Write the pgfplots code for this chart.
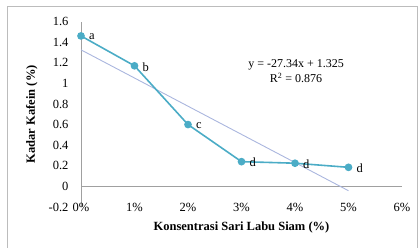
\documentclass[border=0pt]{standalone}
\usepackage{pgfplots}
\pgfplotsset{compat=1.18}
\usepackage{fontspec}
\setmainfont{Liberation Serif}
\definecolor{teal1}{RGB}{75,172,198}
\definecolor{trend}{RGB}{170,182,222}
\definecolor{axgray}{RGB}{160,160,160}
\begin{document}
\begin{tikzpicture}[x=1pt,y=1pt]
\useasboundingbox (0,0) rectangle (419,247);
\draw[axgray!70, line width=0.8pt] (7,-5) rectangle (417,241);
\begin{axis}[
  at={(81pt,40pt)}, anchor=south west,
  scale only axis, width=321pt, height=185.5pt,
  xmin=0, xmax=0.06, ymin=-0.2, ymax=1.6,
  clip=false,
  scaled x ticks=false, scaled y ticks=false,
  axis y line*=left, axis x line*=bottom,
  x axis line style={draw=none},
  y axis line style={draw=axgray, line width=0.8pt},
  xtick={0,0.01,0.02,0.03,0.04,0.05,0.06},
  xticklabels={0\%,1\%,2\%,3\%,4\%,5\%,6\%},
  ytick={-0.2,0,0.2,0.4,0.6,0.8,1,1.2,1.4,1.6},
  major tick length=0pt,
  /pgf/number format/assume math mode=true,
  yticklabel style={/pgf/number format/fixed,/pgf/number format/precision=1, font=\fontsize{12.5}{14}\selectfont, xshift=-9pt},
  xticklabel style={anchor=center, font=\fontsize{12.5}{14}\selectfont},
  extra y ticks={0}, extra y tick labels={},
  extra y tick style={grid=major, major grid style={draw=axgray, line width=0.8pt}},
  xlabel={Konsentrasi Sari Labu Siam (\%)},
  ylabel={Kadar Kafein (\%)},
  label style={font=\bfseries\fontsize{12.5}{14}\selectfont},
  xlabel style={at={(axis description cs:0.5,-0.108)}, anchor=center},
  ylabel style={at={(axis description cs:-0.153,0.5)}, anchor=center},
]
\addplot[trend, line width=0.9pt, forget plot] coordinates {(0,1.325) (0.05,-0.042)};
\addplot[teal1, line width=1.6pt, mark=*, mark size=3pt, mark options={fill=teal1, draw=teal1},
  nodes near coords, point meta=explicit symbolic,
  every node near coord/.style={anchor=west, xshift=4pt, yshift=-1pt, text=black, font=\fontsize{12.5}{14}\selectfont}]
  table[meta=lab] {
x y lab
0 1.46 a
0.01 1.17 b
0.02 0.60 c
0.03 0.24 d
0.04 0.225 d
0.05 0.185 d
};
\node[align=center, font=\fontsize{12}{15}\selectfont] at (rel axis cs:0.67,0.733) {y = -27.34x + 1.325\\R\textsuperscript{2} = 0.876};
\end{axis}
\end{tikzpicture}
\end{document}
